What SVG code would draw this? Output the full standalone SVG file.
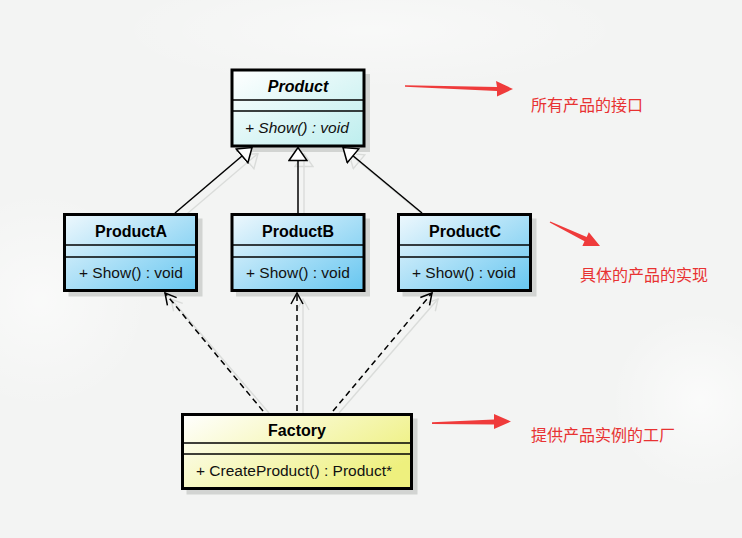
<svg xmlns="http://www.w3.org/2000/svg" width="742" height="538" viewBox="0 0 742 538">
<defs>
<style>
.box{stroke:#000;stroke-width:3}
.shadow{fill:#d2d4d2}
.div{stroke:#000;stroke-width:1.3}
.name{font-family:"Liberation Sans",Arial,sans-serif;font-size:16px;font-weight:bold;text-anchor:middle;fill:#000}
.op{font-family:"Liberation Sans",Arial,sans-serif;font-size:15.5px;fill:#111}
.gen{stroke:#000;stroke-width:1.5;fill:none}
.dep{stroke:#000;stroke-width:1.5;fill:none;stroke-dasharray:6 4}
.sh{stroke:#dadcda;stroke-width:1.4;fill:none}
.note{font-family:"Noto Sans CJK SC","Noto Sans CJK JP",sans-serif;font-size:16px;fill:#e83232}
.red{fill:#ef3b3b}
</style>
<linearGradient id="gP" x1="0" y1="0" x2="1" y2="1">
<stop offset="0" stop-color="#ffffff"/><stop offset="1" stop-color="#bdeeee"/>
</linearGradient>
<linearGradient id="gC" x1="0" y1="0" x2="1" y2="1">
<stop offset="0" stop-color="#eef8fd"/><stop offset="1" stop-color="#66c6f0"/>
</linearGradient>
<linearGradient id="gF" x1="0" y1="0" x2="1" y2="0.6">
<stop offset="0" stop-color="#ffffff"/><stop offset="1" stop-color="#eef07e"/>
</linearGradient>
<radialGradient id="bg1" cx="0.5" cy="0.5" r="0.5">
<stop offset="0" stop-color="#ffffff" stop-opacity="0.9"/><stop offset="1" stop-color="#ffffff" stop-opacity="0"/>
</radialGradient>
<marker id="tri" viewBox="-1 -10 15 20" refX="13" refY="0" markerWidth="15" markerHeight="20" markerUnits="userSpaceOnUse" orient="auto">
<path d="M0,-9 L13,0 L0,9 Z" fill="#fff" stroke="#000" stroke-width="1.5" stroke-dasharray="none"/>
</marker>
<marker id="triS" viewBox="-1 -10 15 20" refX="13" refY="0" markerWidth="15" markerHeight="20" markerUnits="userSpaceOnUse" orient="auto">
<path d="M0,-9 L13,0 L0,9 Z" fill="none" stroke="#dadcda" stroke-width="1.4"/>
</marker>
<marker id="open" viewBox="-1 -8 13 16" refX="11" refY="0" markerWidth="13" markerHeight="16" markerUnits="userSpaceOnUse" orient="auto">
<path d="M0,-6 L11,0 L0,6" fill="none" stroke="#000" stroke-width="1.5" stroke-dasharray="none"/>
</marker>
<marker id="openS" viewBox="-1 -8 13 16" refX="11" refY="0" markerWidth="13" markerHeight="16" markerUnits="userSpaceOnUse" orient="auto">
<path d="M0,-6 L11,0 L0,6" fill="none" stroke="#dadcda" stroke-width="1.4"/>
</marker>
</defs>

<rect width="742" height="538" fill="#f3f4f3"/>
<ellipse cx="40" cy="300" rx="110" ry="110" fill="url(#bg1)" opacity="0.6"/>
<ellipse cx="700" cy="400" rx="90" ry="90" fill="url(#bg1)" opacity="0.7"/>
<ellipse cx="370" cy="30" rx="260" ry="60" fill="url(#bg1)" opacity="0.5"/>

<g id="connector-shadows" transform="translate(6,6)">
<line class="sh" x1="175" y1="213" x2="252" y2="147.5" marker-end="url(#triS)"/>
<line class="sh" x1="298" y1="213" x2="298" y2="147.5" marker-end="url(#triS)"/>
<line class="sh" x1="422" y1="213" x2="343" y2="147.5" marker-end="url(#triS)"/>
<line class="sh" x1="263" y1="407" x2="165" y2="293" marker-end="url(#openS)"/>
<line class="sh" x1="297" y1="407" x2="297" y2="293" marker-end="url(#openS)"/>
<line class="sh" x1="333" y1="407" x2="432" y2="293" marker-end="url(#openS)"/>
</g>

<g id="node-Product">
<rect class="shadow" x="236" y="74" width="134" height="78"/>
<rect class="box" x="232" y="70" width="132" height="76" fill="url(#gP)"/>
<line class="div" x1="232" y1="100" x2="364" y2="100"/>
<line class="div" x1="232" y1="111" x2="364" y2="111"/>
<text class="name" x="298" y="92" font-style="italic">Product</text>
<text class="op" x="245" y="133" font-style="italic">+ Show() : void</text>
</g>

<g id="node-ProductA">
<rect class="shadow" x="68.5" y="218.5" width="134" height="78"/>
<rect class="box" x="64.5" y="214.5" width="132" height="76" fill="url(#gC)"/>
<line class="div" x1="64.5" y1="245" x2="196.5" y2="245"/>
<line class="div" x1="64.5" y1="257" x2="196.5" y2="257"/>
<text class="name" x="131" y="237">ProductA</text>
<text class="op" x="79" y="278">+ Show() : void</text>
</g>

<g id="node-ProductB">
<rect class="shadow" x="236" y="218.5" width="134" height="78"/>
<rect class="box" x="232" y="214.5" width="132" height="76" fill="url(#gC)"/>
<line class="div" x1="232" y1="245" x2="364" y2="245"/>
<line class="div" x1="232" y1="257" x2="364" y2="257"/>
<text class="name" x="298" y="237">ProductB</text>
<text class="op" x="246" y="278">+ Show() : void</text>
</g>

<g id="node-ProductC">
<rect class="shadow" x="402.5" y="218.5" width="134" height="78"/>
<rect class="box" x="398.5" y="214.5" width="132" height="76" fill="url(#gC)"/>
<line class="div" x1="398.5" y1="245" x2="530.5" y2="245"/>
<line class="div" x1="398.5" y1="257" x2="530.5" y2="257"/>
<text class="name" x="465" y="237">ProductC</text>
<text class="op" x="412" y="278">+ Show() : void</text>
</g>

<g id="node-Factory">
<rect class="shadow" x="186.5" y="418.5" width="231" height="76"/>
<rect class="box" x="182.5" y="414.5" width="229" height="74" fill="url(#gF)"/>
<line class="div" x1="182.5" y1="443" x2="411.5" y2="443"/>
<line class="div" x1="182.5" y1="454" x2="411.5" y2="454"/>
<text class="name" x="297" y="436">Factory</text>
<text class="op" x="196" y="476">+ CreateProduct() : Product*</text>
</g>

<g id="connectors">
<line class="gen" x1="175" y1="213" x2="252" y2="147.5" marker-end="url(#tri)"/>
<line class="gen" x1="298" y1="213" x2="298" y2="147.5" marker-end="url(#tri)"/>
<line class="gen" x1="422" y1="213" x2="343" y2="147.5" marker-end="url(#tri)"/>
<line class="dep" x1="263" y1="411" x2="165" y2="293" marker-end="url(#open)"/>
<line class="dep" x1="297" y1="411" x2="297" y2="293" marker-end="url(#open)"/>
<line class="dep" x1="333" y1="411" x2="432" y2="293" marker-end="url(#open)"/>
</g>

<g id="annotations">
<polygon class="red" points="405,85.3 497,87 496,81 513,89 497,96.5 497,91 405,86.8"/>
<polygon class="red" points="550.3,221.4 586.7,236.9 588.8,232.3 600,246 582.4,245.9 584.5,241.35 549.7,222.6"/>
<polygon class="red" points="432,422.3 494,419.5 494,414 511,421.5 494,429 494,424.5 432,424"/>
<text class="note" x="531" y="111">所有产品的接口</text>
<text class="note" x="580" y="281">具体的产品的实现</text>
<text class="note" x="531" y="441">提供产品实例的工厂</text>
</g>
</svg>
